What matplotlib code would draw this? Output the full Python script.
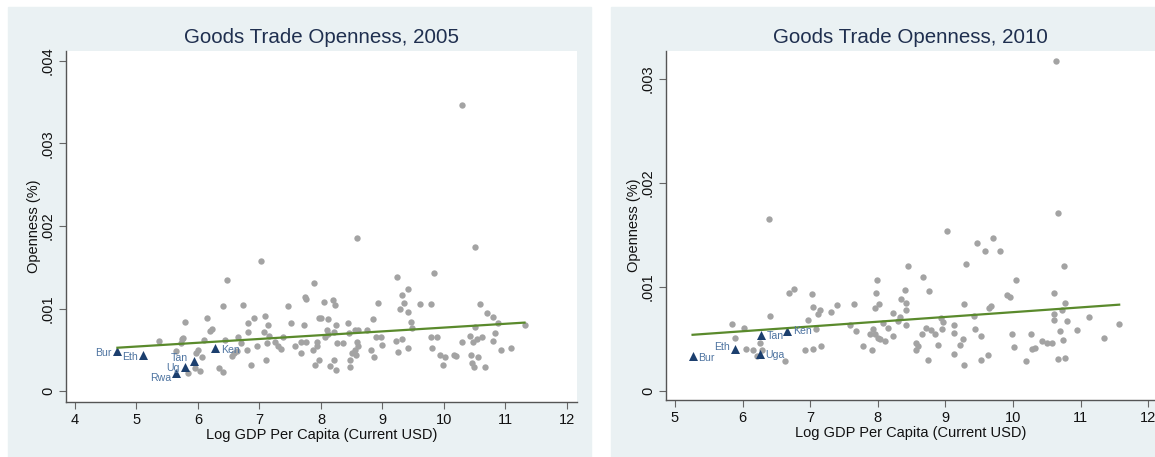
import numpy as np
import matplotlib
matplotlib.use("Agg")
import matplotlib.pyplot as plt
from matplotlib.patches import Rectangle

plt.rcParams['font.family'] = ['Liberation Sans', 'DejaVu Sans']

# ---- 2005 panel data (log GDP per capita, openness) ----
x05 = [5.37, 5.65, 5.74, 5.79, 5.76, 5.73, 5.83, 5.95, 5.97, 6.00, 6.04, 6.06, 6.09,
       6.15, 6.20, 6.22, 6.34, 6.41, 6.41, 6.44, 6.47, 6.55, 6.59, 6.63, 6.65, 6.73,
       6.70, 6.79, 6.81, 6.81, 6.86, 6.91, 6.96, 7.02, 7.09, 7.11, 7.08, 7.12, 7.14,
       7.15, 7.26, 7.30, 7.35, 7.38, 7.46, 7.52, 7.57, 7.67, 7.68, 7.74, 7.75, 7.73,
       7.76, 7.88, 7.87, 7.91, 7.93, 7.94, 7.97, 7.97, 8.00, 8.05, 8.07, 8.09, 8.11,
       8.12, 8.15, 8.19, 8.21, 8.23, 8.21, 8.24, 8.26, 8.24, 8.35, 8.44, 8.46, 8.47,
       8.48, 8.50, 8.55, 8.56, 8.58, 8.57, 8.59, 8.60, 8.61, 8.75, 8.82, 8.85, 8.87,
       8.89, 8.93, 8.98, 8.99, 9.24, 9.22, 9.26, 9.28, 9.31, 9.32, 9.35, 9.41, 9.42,
       9.41, 9.46, 9.48, 9.61, 9.79, 9.79, 9.81, 9.83, 9.88, 9.93, 9.99, 10.01, 10.17,
       10.20, 10.29, 10.30, 10.43, 10.44, 10.46, 10.49, 10.48, 10.50, 10.50, 10.54,
       10.56, 10.59, 10.62, 10.67, 10.70, 10.79, 10.79, 10.83, 10.88, 10.92, 11.09, 11.31]
y05 = [0.61, 0.49, 0.63, 0.835, 0.64, 0.58, 0.22, 0.28, 0.46, 0.50, 0.24, 0.41, 0.62,
       0.89, 0.73, 0.75, 0.28, 0.23, 1.03, 0.62, 1.34, 0.42, 0.46, 0.48, 0.65, 1.04,
       0.58, 0.50, 0.82, 0.71, 0.32, 0.89, 0.54, 1.58, 0.91, 0.37, 0.71, 0.58, 0.80,
       0.67, 0.59, 0.54, 0.51, 0.65, 1.03, 0.83, 0.55, 0.46, 0.59, 1.14, 1.11, 0.80,
       0.59, 1.31, 0.50, 0.32, 0.54, 0.60, 0.38, 0.88, 0.88, 1.08, 0.66, 0.74, 0.87,
       0.69, 0.30, 1.10, 0.71, 1.04, 0.38, 0.80, 0.58, 0.25, 0.58, 0.82, 0.70, 0.38,
       0.29, 0.46, 0.74, 0.50, 1.86, 0.44, 0.59, 0.54, 0.74, 0.74, 0.50, 0.87, 0.41,
       0.65, 1.07, 0.65, 0.56, 1.38, 0.61, 0.47, 1.00, 1.16, 0.63, 1.07, 1.24, 0.96,
       0.52, 0.84, 0.76, 1.06, 1.05, 0.66, 0.52, 1.43, 0.66, 0.44, 0.31, 0.41, 0.44,
       0.42, 3.47, 0.59, 0.67, 0.44, 0.34, 0.29, 0.59, 1.74, 0.78, 0.63,
       0.41, 1.05, 0.66, 0.29, 0.94, 0.61, 0.90, 0.70, 0.83, 0.50, 0.52, 0.80]
eac05_x = [4.69, 5.11, 5.93, 5.79, 5.65, 6.28]
eac05_y = [0.48, 0.44, 0.36, 0.29, 0.22, 0.52]
eac05_lab = ["Bur", "Eth", "Tan", "Ug", "Rwa", "Ken"]
fit05 = [0.309, 0.046]   # intercept, slope (x1e-3)

# ---- 2010 panel data ----
x10 = [5.84, 5.89, 6.02, 6.05, 6.15, 6.22, 6.26, 6.28, 6.39, 6.40, 6.62, 6.68, 6.76,
       6.93, 6.96, 7.03, 7.04, 7.04, 7.08, 7.11, 7.14, 7.16, 7.31, 7.40, 7.59, 7.65,
       7.67, 7.78, 7.88, 7.91, 7.93, 7.96, 7.96, 7.98, 7.99, 8.00, 8.02, 8.03, 8.08,
       8.11, 8.15, 8.22, 8.22, 8.30, 8.33, 8.34, 8.40, 8.41, 8.41, 8.44, 8.42, 8.56,
       8.57, 8.59, 8.66, 8.67, 8.71, 8.74, 8.76, 8.79, 8.85, 8.89, 8.93, 8.95, 8.96,
       9.03, 9.12, 9.13, 9.12, 9.22, 9.26, 9.28, 9.30, 9.28, 9.42, 9.44, 9.47, 9.53,
       9.53, 9.58, 9.63, 9.64, 9.67, 9.70, 9.81, 9.91, 9.95, 9.98, 10.01, 10.05, 10.19,
       10.27, 10.28, 10.33, 10.43, 10.50, 10.58, 10.60, 10.60, 10.61, 10.63, 10.67,
       10.67, 10.70, 10.72, 10.74, 10.76, 10.77, 10.77, 10.80, 10.94, 11.13, 11.35, 11.57]
y10 = [0.64, 0.51, 0.61, 0.40, 0.39, 0.34, 0.46, 0.39, 1.65, 0.72, 0.29, 0.94, 0.98,
       0.39, 0.68, 0.93, 0.40, 0.81, 0.60, 0.74, 0.78, 0.43, 0.76, 0.83, 0.63, 0.84,
       0.58, 0.43, 0.55, 0.39, 0.60, 0.80, 0.55, 0.94, 1.07, 0.51, 0.84, 0.50, 0.65,
       0.48, 0.61, 0.75, 0.53, 0.67, 0.71, 0.88, 0.97, 0.85, 0.63, 1.20, 0.78, 0.46,
       0.39, 0.43, 0.55, 1.10, 0.61, 0.30, 0.96, 0.59, 0.55, 0.44, 0.70, 0.60, 0.66,
       1.54, 0.63, 0.56, 0.36, 0.44, 0.50, 0.84, 1.22, 0.25, 0.72, 0.60, 1.42, 0.53,
       0.30, 1.35, 0.35, 0.80, 0.82, 1.47, 1.35, 0.92, 0.90, 0.55, 0.42, 1.07, 0.29,
       0.55, 0.40, 0.41, 0.48, 0.46, 0.46, 0.68, 0.94, 0.74, 3.17, 0.31,
       1.71, 0.58, 0.78, 0.49, 1.20, 0.85, 0.32, 0.67, 0.59, 0.71, 0.51, 0.64]
eac10_x = [5.26, 5.89, 6.25, 6.27, 6.66]
eac10_y = [0.34, 0.40, 0.36, 0.54, 0.58]
eac10_lab = ["Bur", "Eth", "Uga", "Tan", "Ken"]
fit10 = [0.299, 0.0459]

# label placement (offset in points) per marker label
place05 = [(-4, -1), (-4, -2), (-4, 2.5), (-4, -0.5), (-4, -3.5), (4, -1)]
place10 = [(4, -2), (-4, 2), (4, -1), (4, -1), (4, 0)]

GRAY = "#a3a3a3"
NAVY = "#1c3f6e"
LABC = "#4d73a0"
GREEN = "#5a8a2c"
TITLEC = "#1f2f4f"
BG = "#eaf1f3"

W, H = 1155, 457
fig = plt.figure(figsize=(W / 100, H / 100), dpi=100)
fig.patches.append(Rectangle((8 / W, 0), (591 - 8) / W, (H - 7) / H,
                             transform=fig.transFigure, color=BG, zorder=-10))
fig.patches.append(Rectangle((611 / W, 0), (W - 611) / W, (H - 7) / H,
                             transform=fig.transFigure, color=BG, zorder=-10))


def panel(rect, xs, ys, ex, ey, elab, place, fit, title, xlim, ylim, xticks, yticks):
    ax = fig.add_axes(rect)
    ax.set_facecolor("white")
    xs = np.array(xs)
    ys = np.array(ys) * 1e-3
    ax.scatter(xs, ys, s=21, color=GRAY, linewidths=0, zorder=2)
    ax.scatter(ex, np.array(ey) * 1e-3, s=42, marker="^", color=NAVY,
               linewidths=0, zorder=3)
    for lab, x, y, (dx, dy) in zip(elab, ex, ey, place):
        ax.annotate(lab, (x, y * 1e-3), xytext=(dx, dy), textcoords="offset points",
                    ha="right" if dx < 0 else "left", va="center",
                    fontsize=7.6, color=LABC, zorder=4)
    allx = np.concatenate([xs, ex])
    xx = np.array([allx.min(), allx.max()])
    ax.plot(xx, (fit[0] + fit[1] * xx) * 1e-3, color=GREEN, lw=1.6, zorder=3)
    ax.set_xlim(*xlim)
    ax.set_ylim(*ylim)
    ax.set_xticks(xticks)
    ax.set_xticklabels([str(t) for t in xticks])
    ax.set_yticks([t * 1e-3 for t in yticks])
    ax.set_yticklabels(["0" if t == 0 else ".00%d" % t for t in yticks],
                       rotation=90, va="center")
    for s in ["top", "right"]:
        ax.spines[s].set_visible(False)
    for s in ["left", "bottom"]:
        ax.spines[s].set_color("#555555")
        ax.spines[s].set_linewidth(1.0)
    ax.tick_params(direction="out", length=5, width=0.8, color="#666666",
                   labelsize=10.5, labelcolor="#111111", pad=3)
    ax.set_title(title, fontsize=14.8, color=TITLEC, pad=6)
    ax.set_xlabel("Log GDP Per Capita (Current USD)", fontsize=10.5,
                  color="#111111", labelpad=1)
    ax.set_ylabel("Openness (%)", fontsize=10.5, color="#111111", labelpad=0)
    return ax


panel([66 / W, (H - 402) / H, (577 - 66) / W, (402 - 51) / H],
      x05, y05, eac05_x, eac05_y, eac05_lab, place05, fit05,
      "Goods Trade Openness, 2005", (3.854, 12.163), (-0.133e-3, 4.121e-3),
      list(range(4, 13)), [0, 1, 2, 3, 4])
panel([666 / W, (H - 400) / H, (W - 666) / W, (400 - 51) / H],
      x10, y10, eac10_x, eac10_y, eac10_lab, place10, fit10,
      "Goods Trade Openness, 2010", (4.867, 12.10), (-0.0865e-3, 3.269e-3),
      list(range(5, 13)), [0, 1, 2, 3])

fig.savefig("out.png", dpi=100)
